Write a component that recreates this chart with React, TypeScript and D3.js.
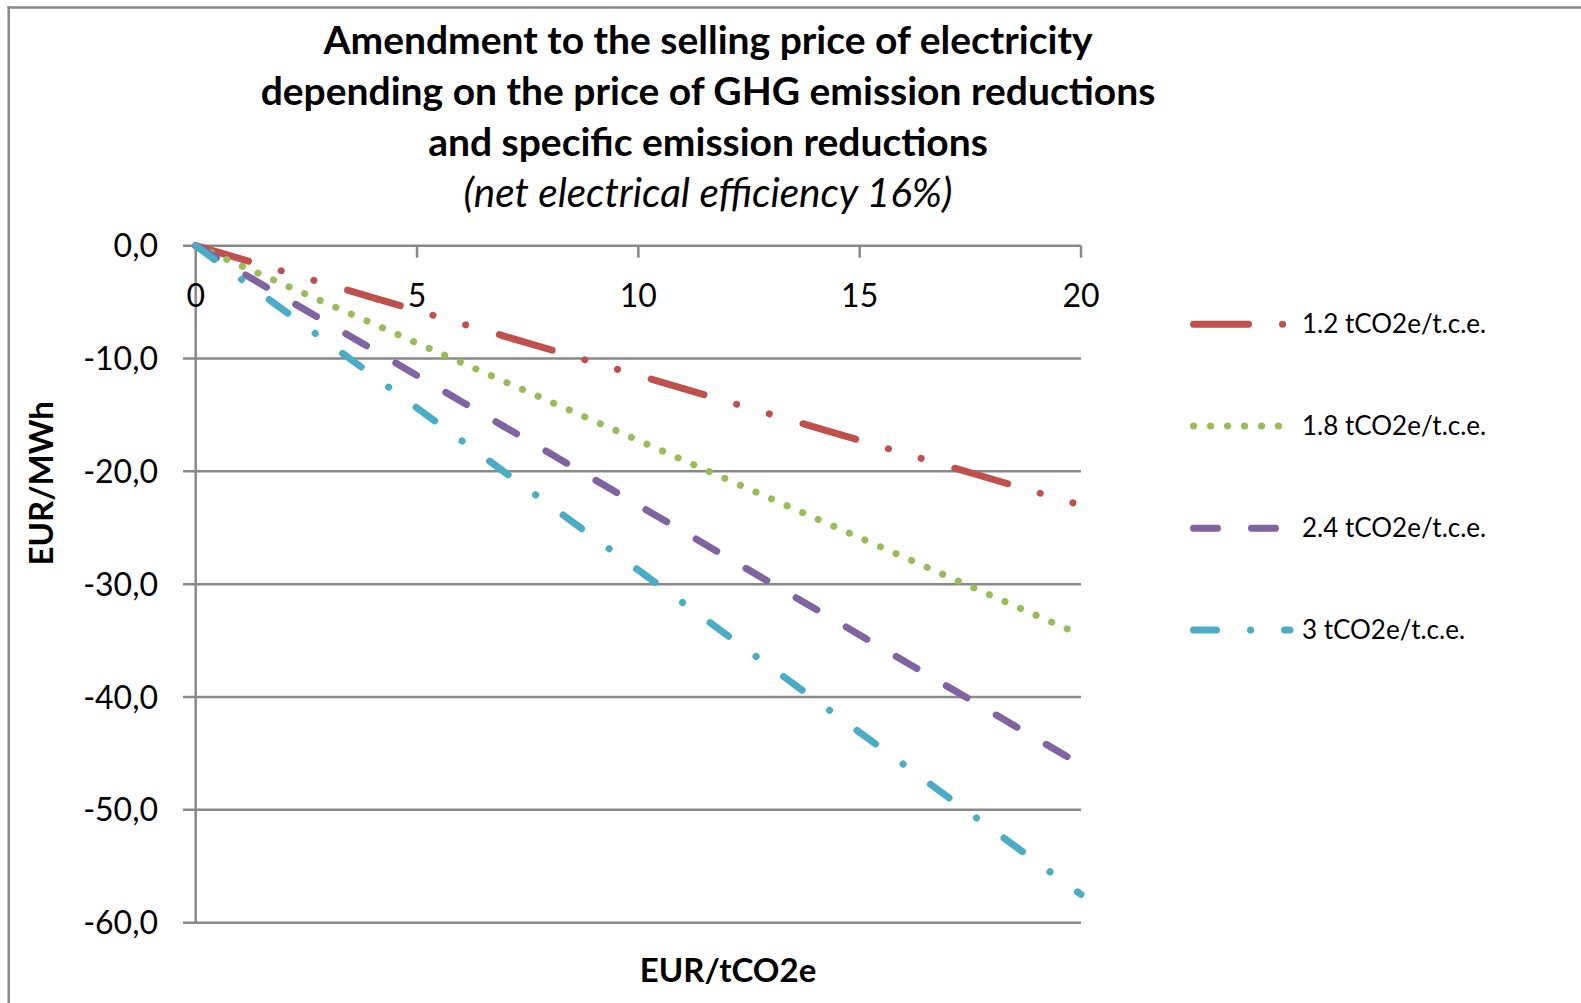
import React, { useEffect, useRef } from 'react';
import * as d3 from 'd3';

// x: price of GHG emission reductions, EUR/tCO2e
const prices = [0, 1, 2, 3, 4, 5, 6, 7, 8, 9, 10, 11, 12, 13, 14, 15, 16, 17, 18, 19, 20];

// y: amendment, EUR/MWh (one array per specific emission reduction)
const red12 = [0, -1.15, -2.3, -3.45, -4.6, -5.75, -6.9, -8.05, -9.2, -10.35, -11.5, -12.65, -13.8, -14.95, -16.1, -17.25, -18.4, -19.55, -20.7, -21.85, -23.0];
const red18 = [0, -1.73, -3.45, -5.18, -6.9, -8.63, -10.35, -12.08, -13.8, -15.53, -17.25, -18.98, -20.7, -22.43, -24.15, -25.88, -27.6, -29.33, -31.05, -32.78, -34.5];
const red24 = [0, -2.3, -4.6, -6.9, -9.2, -11.5, -13.8, -16.1, -18.4, -20.7, -23.0, -25.3, -27.6, -29.9, -32.2, -34.5, -36.8, -39.1, -41.4, -43.7, -46.0];
const red30 = [0, -2.88, -5.75, -8.63, -11.5, -14.38, -17.25, -20.13, -23.0, -25.88, -28.75, -31.63, -34.5, -37.38, -40.25, -43.13, -46.0, -48.88, -51.75, -54.63, -57.5];

const seriesNames = ['1.2 tCO2e/t.c.e.', '1.8 tCO2e/t.c.e.', '2.4 tCO2e/t.c.e.', '3 tCO2e/t.c.e.'];
const xTicks = [0, 5, 10, 15, 20];
const yTicks = [0, -10, -20, -30, -40, -50, -60];

const titleLines = [
    'Amendment to the selling price of electricity',
    'depending on the price of GHG emission reductions',
    'and specific emission reductions',
];
const subtitle = '(net electrical efficiency 16%)';

const FONT = 'Lato, "Open Sans", sans-serif';
const GRID = '#898989';

const styles = [
    { color: '#C0504D', dash: '55,34,0.1,34,0.1,35' },
    { color: '#9BBB59', dash: '0.1,16.9' },
    { color: '#8064A2', dash: '24,34' },
    { color: '#4BACC6', dash: '23,34,0.1,34' },
];

const App: React.FC = () => {
    const svgRef = useRef<SVGSVGElement | null>(null);

    useEffect(() => {
        const svg = d3.select(svgRef.current);
        svg.selectAll('*').remove();

        const x = d3.scaleLinear().domain([0, 20]).range([195.7, 1081]);
        const y = d3.scaleLinear().domain([-60, 0]).range([922.7, 245.7]);

        // chart border (only left and top visible)
        svg.append('line').attr('x1', 8.7).attr('x2', 8.7).attr('y1', 6.5).attr('y2', 1003)
            .attr('stroke', GRID).attr('stroke-width', 2.5);
        svg.append('line').attr('x1', 7.5).attr('x2', 1581).attr('y1', 7.5).attr('y2', 7.5)
            .attr('stroke', GRID).attr('stroke-width', 2.5);

        // title
        const title = svg.append('g').attr('font-family', FONT).attr('text-anchor', 'middle').attr('fill', '#000');
        titleLines.forEach((t, i) => {
            title.append('text').attr('x', 708).attr('y', 54 + i * 51)
                .attr('font-size', 39).attr('font-weight', 'bold').text(t);
        });
        title.append('text').attr('x', 708).attr('y', 207)
            .attr('font-size', 40.5).attr('font-style', 'italic').text(subtitle);

        // horizontal gridlines and y ticks
        const grid = svg.append('g');
        yTicks.forEach((v) => {
            grid.append('line').attr('x1', 183).attr('x2', x(20))
                .attr('y1', y(v)).attr('y2', y(v))
                .attr('stroke', GRID).attr('stroke-width', 2.5);
        });
        grid.append('line').attr('x1', x(0)).attr('x2', x(0))
            .attr('y1', y(0)).attr('y2', y(-60))
            .attr('stroke', GRID).attr('stroke-width', 2.5);
        xTicks.slice(1).forEach((v) => {
            grid.append('line').attr('x1', x(v)).attr('x2', x(v))
                .attr('y1', y(0)).attr('y2', y(0) + 12)
                .attr('stroke', GRID).attr('stroke-width', 2.5);
        });

        const fmt = (v: number) => d3.format('.1f')(v).replace('.', ',').replace('−', '-');
        svg.append('g').selectAll('text').data(yTicks).enter().append('text')
            .attr('x', 158).attr('y', (d) => y(d) + 11.5)
            .attr('text-anchor', 'end').attr('font-family', FONT).attr('font-size', 32)
            .text((d) => fmt(d));

        svg.append('g').selectAll('text').data(xTicks).enter().append('text')
            .attr('x', (d) => x(d)).attr('y', 307.3)
            .attr('text-anchor', 'middle').attr('font-family', FONT).attr('font-size', 32)
            .text((d) => String(d));

        // axis titles
        svg.append('text').attr('x', 728).attr('y', 981.5)
            .attr('text-anchor', 'middle').attr('font-family', FONT).attr('font-size', 33)
            .attr('font-weight', 'bold').text('EUR/tCO2e');
        svg.append('text').attr('transform', 'translate(53,483.3) rotate(-90)')
            .attr('text-anchor', 'middle').attr('font-family', FONT).attr('font-size', 33)
            .attr('font-weight', 'bold').text('EUR/MWh');

        // series lines
        const line = d3.line<[number, number]>().x((d) => x(d[0])).y((d) => y(d[1]));
        const allSeries = [red12, red18, red24, red30];
        allSeries.forEach((vals, i) => {
            const pts = prices.map((p, j) => [p, vals[j]] as [number, number]);
            svg.append('path').attr('d', line(pts) ?? '')
                .attr('fill', 'none').attr('stroke', styles[i].color)
                .attr('stroke-width', 7).attr('stroke-linecap', 'round')
                .attr('stroke-dasharray', styles[i].dash);
        });

        // legend
        const legendY = [324.3, 426, 528.3, 630];
        seriesNames.forEach((name, i) => {
            svg.append('path').attr('d', `M1193.5,${legendY[i]}H1290`)
                .attr('fill', 'none').attr('stroke', styles[i].color)
                .attr('stroke-width', 7).attr('stroke-linecap', 'round')
                .attr('stroke-dasharray', styles[i].dash);
            svg.append('text').attr('x', 1302).attr('y', legendY[i] + 9)
                .attr('font-family', FONT).attr('font-size', 26).text(name);
        });
    }, []);

    return (
        <svg
            ref={svgRef}
            width={1581}
            height={1003}
            style={{ position: 'absolute', left: 0, top: 0, background: '#fff' }}
        />
    );
};

export default App;
